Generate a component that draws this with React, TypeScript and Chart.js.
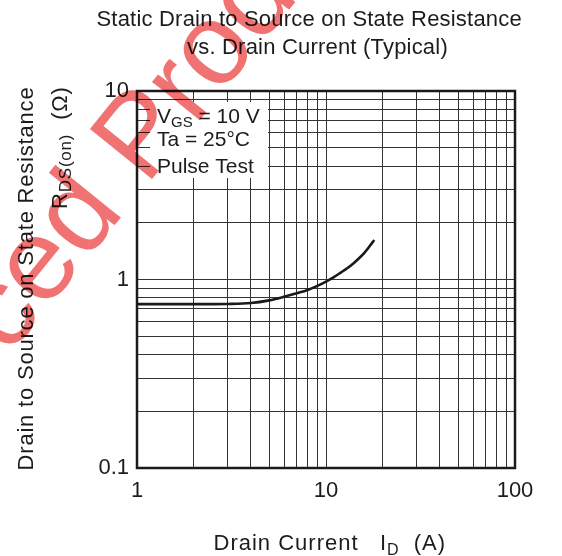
import { useEffect, useRef } from 'react';
import { Chart, registerables } from 'chart.js';

Chart.register(...registerables);

// ---- data ----
const drainCurrent = [1, 2, 3, 4, 5, 6, 7, 8, 9, 10, 11, 12, 13, 14, 15, 16, 17, 18];
const rdsOn = [0.74, 0.74, 0.742, 0.75, 0.775, 0.81, 0.845, 0.88, 0.925, 0.975, 1.03, 1.09, 1.15, 1.22, 1.3, 1.39, 1.5, 1.62];

const xGridValues = [1, 2, 3, 4, 5, 6, 7, 8, 9, 10, 20, 30, 40, 50, 60, 70, 80, 90, 100];
const yGridValues = [0.1, 0.2, 0.3, 0.4, 0.5, 0.6, 0.7, 0.8, 0.9, 1, 2, 3, 4, 5, 6, 7, 8, 9, 10];
const xLabelValues = [1, 10, 100];
const xLabels = ['1', '10', '100'];
const yLabelValues = [0.1, 1, 10];
const yLabels = ['0.1', '1', '10'];

const titleLines = ['Static Drain to Source on State Resistance', 'vs. Drain Current (Typical)'];
const yTitleMain = 'Drain to Source on State Resistance';
const conditionLine2 = 'Ta = 25\u00B0C';
const conditionLine3 = 'Pulse Test';
const watermarkText = 'ced Product';

const FONT = '"Liberation Sans", Arial, Helvetica, sans-serif';
const TEXT = '#1c1c1c';

function labelFor(value: number, values: number[], labels: string[]) {
  for (let i = 0; i < values.length; i++) {
    if (Math.abs(value - values[i]) < values[i] * 1e-6) return labels[i];
  }
  return '';
}

const decorPlugin = {
  id: 'decor',
  afterDraw(chart: any) {
    const ctx: CanvasRenderingContext2D = chart.ctx;
    const a = chart.chartArea;
    ctx.save();
    ctx.textAlign = 'left';
    ctx.textBaseline = 'alphabetic';

    // condition box
    ctx.fillStyle = '#ffffff';
    ctx.fillRect(a.left + 13, a.top + 11, 118, 76);
    ctx.fillStyle = TEXT;
    let x = a.left + 20;
    ctx.font = `21px ${FONT}`;
    ctx.fillText('V', x, a.top + 32.3);
    x += ctx.measureText('V').width;
    ctx.font = `15px ${FONT}`;
    ctx.fillText('GS', x, a.top + 36);
    x += ctx.measureText('GS').width;
    ctx.font = `21px ${FONT}`;
    ctx.fillText(' = 10 V', x, a.top + 32.3);
    ctx.fillText(conditionLine2, a.left + 20, a.top + 55);
    ctx.fillText(conditionLine3, a.left + 20, a.top + 81.6);

    // frame
    ctx.strokeStyle = '#1a1a1a';
    ctx.lineWidth = 2.5;
    ctx.strokeRect(a.left, a.top, a.right - a.left, a.bottom - a.top);

    // title
    (ctx as any).letterSpacing = '0.2px';
    ctx.font = `22px ${FONT}`;
    ctx.fillText(titleLines[0], 96.5, 26);
    ctx.fillText(titleLines[1], 187, 53.5);

    // x title
    (ctx as any).letterSpacing = '1px';
    let xx = 213.5;
    ctx.font = `22px ${FONT}`;
    ctx.fillText('Drain Current   I', xx, 550);
    xx += ctx.measureText('Drain Current   I').width;
    ctx.font = `16px ${FONT}`;
    ctx.fillText('D', xx, 555);
    xx += ctx.measureText('D').width;
    ctx.font = `22px ${FONT}`;
    ctx.fillText('  (A)', xx, 550);

    // y title line 1
    (ctx as any).letterSpacing = '0.8px';
    ctx.save();
    ctx.translate(33.3, 278.5);
    ctx.rotate(-Math.PI / 2);
    ctx.textAlign = 'center';
    ctx.font = `22px ${FONT}`;
    ctx.fillText(yTitleMain, 0, 0);
    ctx.restore();

    // y title line 2
    ctx.save();
    ctx.translate(66.7, 209);
    ctx.rotate(-Math.PI / 2);
    let u = 0;
    ctx.font = `22px ${FONT}`;
    ctx.fillText('R', u, 0);
    u += ctx.measureText('R').width;
    ctx.font = `17px ${FONT}`;
    ctx.fillText('DS(on)', u, 4.5);
    u += ctx.measureText('DS(on)').width;
    ctx.font = `22px ${FONT}`;
    ctx.fillText('  (\u03A9)', u, 0);
    ctx.restore();
    (ctx as any).letterSpacing = '0px';

    // watermark
    ctx.globalCompositeOperation = 'multiply';
    ctx.fillStyle = 'rgb(241,114,114)';
    ctx.translate(8, 357);
    ctx.rotate((-51 * Math.PI) / 180);
    ctx.font = `116px ${FONT}`;
    ctx.fillText(watermarkText, 0, 0);
    ctx.restore();
  },
};

export default function App() {
  const ref = useRef<HTMLCanvasElement | null>(null);
  useEffect(() => {
    document.body.style.margin = '0';
    const canvas = ref.current;
    if (!canvas) return;
    const chart = new Chart(canvas, {
      type: 'line',
      data: {
        datasets: [
          {
            data: drainCurrent.map((v, i) => ({ x: v, y: rdsOn[i] })),
            borderColor: '#1a1a1a',
            borderWidth: 2.6,
            pointRadius: 0,
            fill: false,
            tension: 0.4,
            cubicInterpolationMode: 'monotone',
          },
        ],
      },
      options: {
        responsive: false,
        animation: false,
        events: [],
        layout: { padding: { left: 0, right: 47, top: 91, bottom: 0 } },
        plugins: {
          legend: { display: false },
          tooltip: { enabled: false },
          title: { display: false },
        },
        scales: {
          x: {
            type: 'logarithmic',
            position: 'bottom',
            min: 1,
            max: 100,
            afterBuildTicks: (s: any) => {
              s.ticks = xGridValues.map((v) => ({ value: v }));
            },
            afterFit: (s: any) => {
              s.height = 88;
            },
            ticks: {
              autoSkip: false,
              maxRotation: 0,
              padding: 10,
              color: TEXT,
              font: { family: FONT, size: 22 },
              callback: (v: any) => labelFor(Number(v), xLabelValues, xLabels),
            },
            grid: { color: '#333333', lineWidth: 1, drawTicks: false },
            border: { display: false },
          },
          y: {
            type: 'logarithmic',
            min: 0.1,
            max: 10,
            afterBuildTicks: (s: any) => {
              s.ticks = yGridValues.map((v) => ({ value: v }));
            },
            afterFit: (s: any) => {
              s.width = 137;
            },
            ticks: {
              autoSkip: false,
              padding: 8,
              color: TEXT,
              font: { family: FONT, size: 22 },
              callback: (v: any) => labelFor(Number(v), yLabelValues, yLabels),
            },
            grid: { color: '#333333', lineWidth: 1, drawTicks: false },
            border: { display: false },
          },
        },
      } as any,
      plugins: [decorPlugin],
    });
    return () => chart.destroy();
  }, []);
  return (
    <div style={{ width: 562, height: 556, background: '#fff' }}>
      <canvas ref={ref} width={562} height={556} style={{ display: 'block' }} />
    </div>
  );
}
